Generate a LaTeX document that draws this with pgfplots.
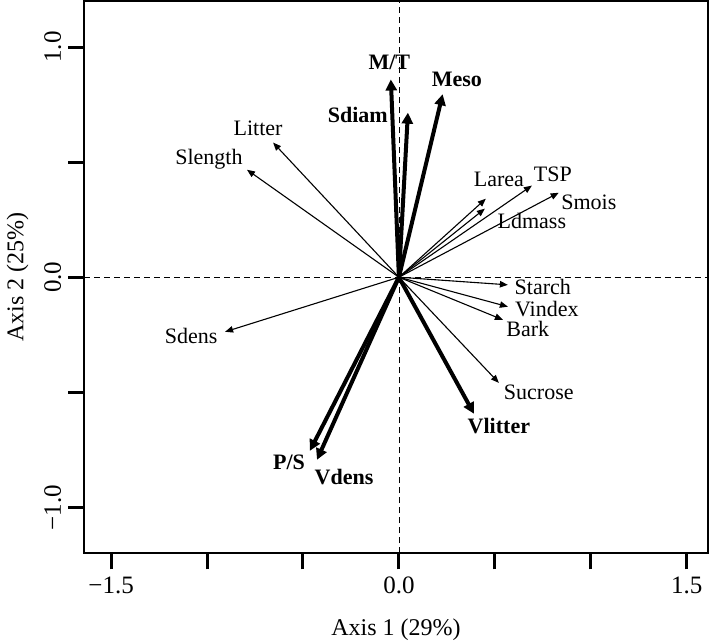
\documentclass[border=0pt]{standalone}
\usepackage{fontspec}
\setmainfont{Liberation Serif}
\usepackage{pgfplots}
\pgfplotsset{compat=1.18}
\usetikzlibrary{arrows.meta}
\begin{document}
\begin{tikzpicture}
\begin{axis}[
  scale only axis,
  width=311.5pt, height=276pt,
  xmin=-1.64, xmax=1.61, ymin=-1.2, ymax=1.2,
  axis line style={line width=1pt},
  tick align=outside,
  xtick pos=lower, ytick pos=left,
  major tick length=8pt,
  tick style={line width=1.5pt, black},
  xtick={-1.5,-1,-0.5,0,0.5,1,1.5},
  xticklabels={−1.5,,,0.0,,,1.5},
  ytick={-1,-0.5,0,0.5,1},
  yticklabels={−1.0,,0.0,,1.0},
  yticklabel style={rotate=90, anchor=south},
  ticklabel style={font=\fontsize{12.5}{14}\selectfont},
  xlabel={Axis 1 (29\%)},
  ylabel={Axis 2 (25\%)},
  label style={font=\fontsize{12}{14}\selectfont},
  xlabel style={inner sep=0pt, yshift=-9pt},
  ylabel style={yshift=1pt},
  clip=false,
]
\addplot[densely dashed, line width=0.4pt, forget plot] coordinates {(-1.64,0) (1.61,0)};
\addplot[densely dashed, line width=0.4pt, forget plot] coordinates {(0,-1.2) (0,1.2)};
\pgfplotsset{thinarr/.style={line width=0.55pt, -{Triangle[length=4pt,width=3.2pt]}}}
\pgfplotsset{thickarr/.style={line width=2pt, -{Triangle[length=5.5pt,width=5.5pt]}}}
% thin arrows
\addplot[thinarr] coordinates {(0,0) (-0.656,0.585)};
\addplot[thinarr] coordinates {(0,0) (-0.792,0.467)};
\addplot[thinarr] coordinates {(0,0) (0.453,0.341)};
\addplot[thinarr] coordinates {(0,0) (0.448,0.298)};
\addplot[thinarr] coordinates {(0,0) (0.693,0.398)};
\addplot[thinarr] coordinates {(0,0) (0.833,0.367)};
\addplot[thinarr] coordinates {(0,0) (0.568,-0.033)};
\addplot[thinarr] coordinates {(0,0) (0.568,-0.128)};
\addplot[thinarr] coordinates {(0,0) (0.542,-0.185)};
\addplot[thinarr] coordinates {(0,0) (0.521,-0.459)};
\addplot[thinarr] coordinates {(0,0) (-0.906,-0.237)};
% thick arrows
\addplot[thickarr] coordinates {(0,0) (-0.042,0.859)};
\addplot[thickarr] coordinates {(0,0) (0.047,0.715)};
\addplot[thickarr] coordinates {(0,0) (0.228,0.795)};
\addplot[thickarr] coordinates {(0,0) (0.391,-0.593)};
\addplot[thickarr] coordinates {(0,0) (-0.464,-0.754)};
\addplot[thickarr] coordinates {(0,0) (-0.427,-0.793)};
% labels
\begin{scope}[every node/.style={font=\fontsize{11}{13}\selectfont, inner sep=0pt}]
\node at (axis cs:-0.734,0.645) {Litter};
\node at (axis cs:-0.99,0.511) {Slength};
\node at (axis cs:0.521,0.424) {Larea};
\node at (axis cs:0.802,0.446) {TSP};
\node at (axis cs:0.99,0.324) {Smois};
\node at (axis cs:0.693,0.246) {Ldmass};
\node at (axis cs:0.75,-0.041) {Starch};
\node at (axis cs:0.771,-0.139) {Vindex};
\node at (axis cs:0.672,-0.226) {Bark};
\node at (axis cs:0.729,-0.502) {Sucrose};
\node at (axis cs:-1.083,-0.254) {Sdens};
\node[font=\fontsize{11}{13}\selectfont\bfseries] at (axis cs:-0.05,0.933) {M/T};
\node[font=\fontsize{11}{13}\selectfont\bfseries] at (axis cs:0.302,0.86) {Meso};
\node[font=\fontsize{11}{13}\selectfont\bfseries] at (axis cs:-0.214,0.707) {Sdiam};
\node[font=\fontsize{11}{13}\selectfont\bfseries] at (axis cs:0.521,-0.646) {Vlitter};
\node[font=\fontsize{11}{13}\selectfont\bfseries] at (axis cs:-0.573,-0.802) {P/S};
\node[font=\fontsize{11}{13}\selectfont\bfseries] at (axis cs:-0.286,-0.867) {Vdens};
\end{scope}
\end{axis}
\end{tikzpicture}
\end{document}
